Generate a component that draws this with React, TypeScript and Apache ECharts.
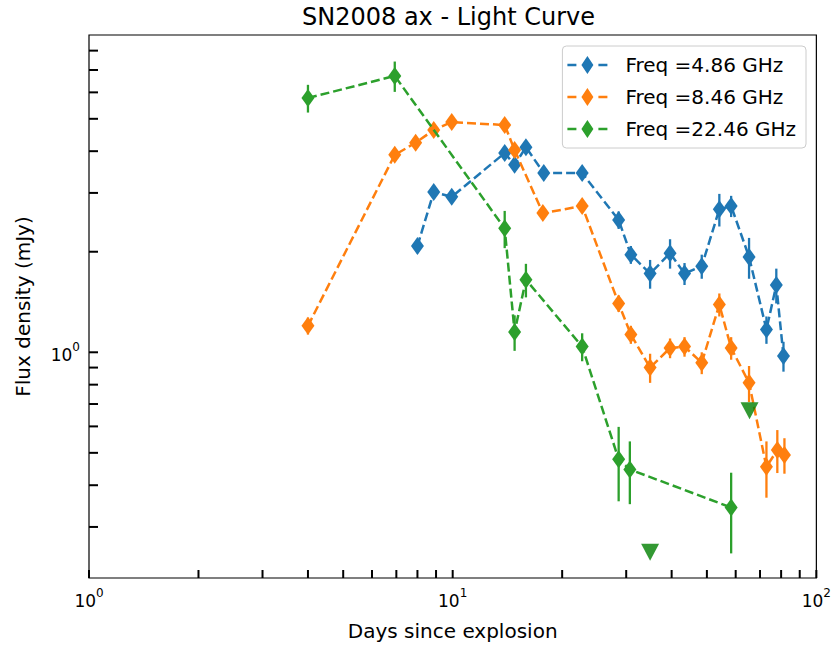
import React, { useEffect, useRef } from "react";
import * as echarts from "echarts";

// ---- data (days since explosion, flux density in mJy, 1-sigma error) ----
const blueDays = [8.0, 8.87, 9.94, 13.9, 14.8, 15.9, 17.8, 22.7, 28.6, 30.9, 34.9, 39.6, 43.4, 48.4, 54.1, 58.3, 65.3, 72.9, 77.6, 81.2];
const blueFlux = [2.08, 3.02, 2.92, 3.95, 3.64, 4.11, 3.44, 3.44, 2.49, 1.96, 1.72, 1.98, 1.72, 1.81, 2.68, 2.74, 1.93, 1.17, 1.59, 0.975];
const blueErr = [0.1, 0.12, 0.1, 0.15, 0.15, 0.15, 0.12, 0.12, 0.15, 0.12, 0.17, 0.2, 0.13, 0.15, 0.3, 0.2, 0.27, 0.11, 0.19, 0.1];

const orangeDays = [4.0, 6.93, 7.91, 8.87, 9.94, 13.9, 14.8, 17.7, 22.7, 28.6, 30.9, 34.9, 39.6, 43.4, 48.4, 54.1, 58.3, 65.3, 72.9, 78.1, 81.7];
const orangeFlux = [1.2, 3.9, 4.24, 4.63, 4.89, 4.79, 4.03, 2.61, 2.74, 1.4, 1.13, 0.9, 1.03, 1.04, 0.93, 1.39, 1.03, 0.81, 0.454, 0.51, 0.493];
const orangeErr = [0.07, 0.1, 0.1, 0.12, 0.12, 0.12, 0.12, 0.1, 0.1, 0.08, 0.07, 0.09, 0.07, 0.07, 0.07, 0.11, 0.08, 0.1, 0.087, 0.075, 0.06];

const greenDays = [4.0, 6.93, 13.9, 14.8, 15.9, 22.7, 28.6, 30.7, 58.3];
const greenFlux = [5.77, 6.72, 2.35, 1.15, 1.65, 1.04, 0.478, 0.446, 0.343];
const greenErr = [0.55, 0.7, 0.3, 0.14, 0.19, 0.1, 0.12, 0.095, 0.093];

// upper limits at 22.46 GHz
const limitDays = [34.9, 65.5];
const limitFlux = [0.252, 0.668];

const seriesNames = ["Freq =4.86 GHz", "Freq =8.46 GHz", "Freq =22.46 GHz"];
const seriesColors = ["#1f77b4", "#ff7f0e", "#2ca02c"];
const limitColor = "#008000";

// tick positions (major + minor) for the log axes
const xTickValues = [1, 2, 3, 4, 5, 6, 7, 8, 9, 10, 20, 30, 40, 50, 60, 70, 80, 90, 100];
const yTickValues = [0.3, 0.4, 0.5, 0.6, 0.7, 0.8, 0.9, 1, 2, 3, 4, 5, 6, 7, 8];

const xMin = 1;
const xMax = 100;
const yMin = 0.211;
const yMax = 8.91;

const FONT = "DejaVu Sans";

const legendIcon =
  "path://M0,7.8L9,7.8L9,10.2L0,10.2Z M14,9L20,0L26,9L20,18Z M31,7.8L40,7.8L40,10.2L31,10.2Z";

function powLabel(v: number): string {
  const e = Math.log10(v);
  const r = Math.round(e);
  if (Math.abs(e - r) > 1e-6) return "";
  return `{b|10}{s|${r}}`;
}

const labelRich = {
  b: { fontSize: 17, fontFamily: FONT, color: "#000", padding: [5, 0, 0, 0], verticalAlign: "bottom" },
  s: { fontSize: 12, fontFamily: FONT, color: "#000", verticalAlign: "top" },
};

export default function App() {
  const ref = useRef<HTMLDivElement>(null);

  useEffect(() => {
    if (!ref.current) return;
    const chart = echarts.init(ref.current, undefined, { renderer: "svg" });

    const groups = [
      { days: blueDays, flux: blueFlux, err: blueErr },
      { days: orangeDays, flux: orangeFlux, err: orangeErr },
      { days: greenDays, flux: greenFlux, err: greenErr },
    ];

    const series: any[] = [];
    groups.forEach((g, i) => {
      const color = seriesColors[i];
      series.push({
        type: "custom",
        name: "err" + i,
        z: 2 + i * 2,
        silent: true,
        data: g.days.map((d, k) => [d, g.flux[k], g.err[k]]),
        encode: { x: 0, y: 1 },
        renderItem: (params: any, api: any) => {
          const x = api.value(0);
          const y = api.value(1);
          const e = api.value(2);
          const top = api.coord([x, y + e]);
          const bot = api.coord([x, Math.max(y - e, 1e-6)]);
          return {
            type: "line",
            shape: { x1: top[0], y1: top[1], x2: bot[0], y2: bot[1] },
            style: { stroke: color, lineWidth: 2.3 },
          };
        },
      });
      series.push({
        type: "line",
        name: seriesNames[i],
        z: 3 + i * 2,
        data: g.days.map((d, k) => [d, g.flux[k]]),
        symbol: "diamond",
        symbolSize: [13, 18],
        showSymbol: true,
        showAllSymbol: true,
        lineStyle: { color, width: 2.5, type: [9, 4] },
        itemStyle: { color },
        emphasis: { disabled: true },
      });
    });

    series.push({
      type: "scatter",
      name: "limits",
      z: 9,
      data: limitDays.map((d, k) => [d, limitFlux[k]]),
      symbol: "triangle",
      symbolRotate: 180,
      symbolSize: [18, 17],
      itemStyle: { color: limitColor },
    });

    // x-axis ticks (inward)
    series.push({
      type: "custom",
      name: "xticks",
      z: 10,
      silent: true,
      data: xTickValues.map((v) => [v, 1]),
      encode: { x: 0, y: 1 },
      renderItem: (params: any, api: any) => {
        const p = api.coord([api.value(0), 1]);
        const cs = params.coordSys;
        const yb = cs.y + cs.height;
        return {
          type: "line",
          shape: { x1: p[0], y1: yb, x2: p[0], y2: yb - 8 },
          style: { stroke: "#000", lineWidth: 2 },
        };
      },
    });
    // y-axis ticks (inward)
    series.push({
      type: "custom",
      name: "yticks",
      z: 10,
      silent: true,
      data: yTickValues.map((v) => [10, v]),
      encode: { x: 0, y: 1 },
      renderItem: (params: any, api: any) => {
        const p = api.coord([10, api.value(1)]);
        const cs = params.coordSys;
        const xl = cs.x;
        return {
          type: "line",
          shape: { x1: xl, y1: p[1], x2: xl + 9, y2: p[1] },
          style: { stroke: "#000", lineWidth: 2 },
        };
      },
    });

    chart.setOption({
      animation: false,
      backgroundColor: "#ffffff",
      title: {
        text: "SN2008 ax - Light Curve",
        left: 302,
        top: 5,
        padding: 0,
        textStyle: { fontSize: 24, fontWeight: "normal", fontFamily: FONT, color: "#000" },
      },
      legend: {
        orient: "vertical",
        top: 46,
        right: 28,
        itemWidth: 40,
        itemHeight: 18,
        itemGap: 12,
        padding: [9, 10, 9, 5],
        backgroundColor: "rgba(255,255,255,0.8)",
        borderColor: "#cccccc",
        borderWidth: 1,
        borderRadius: 4,
        selectedMode: false,
        data: seriesNames.map((n) => ({ name: n, icon: legendIcon })),
        textStyle: { fontSize: 20, fontFamily: FONT, color: "#000", padding: [0, 0, 0, 13] },
      },
      grid: {
        left: 89,
        right: 17,
        top: 35,
        bottom: 68,
        containLabel: false,
        show: true,
        borderColor: "#000",
        borderWidth: 1.2,
        backgroundColor: "transparent",
      },
      xAxis: {
        type: "log",
        logBase: 10,
        min: xMin,
        max: xMax,
        axisLine: { show: false },
        axisTick: { show: false },
        minorTick: { show: false },
        splitLine: { show: false },
        axisLabel: {
          formatter: powLabel,
          margin: 9,
          rich: labelRich,
          showMinLabel: true,
          showMaxLabel: true,
        },
        name: "Days since explosion",
        nameLocation: "middle",
        nameGap: 43,
        nameTextStyle: { fontSize: 20, fontFamily: FONT, color: "#000" },
      },
      yAxis: {
        type: "log",
        logBase: 10,
        min: yMin,
        max: yMax,
        axisLine: { show: false },
        axisTick: { show: false },
        minorTick: { show: false },
        splitLine: { show: false },
        axisLabel: {
          formatter: powLabel,
          margin: 9,
          rich: labelRich,
        },
        name: "Flux density (mJy)",
        nameLocation: "middle",
        nameRotate: 90,
        nameGap: 56,
        nameTextStyle: { fontSize: 20, fontFamily: FONT, color: "#000" },
      },
      series,
    });

    return () => {
      chart.dispose();
    };
  }, []);

  return <div ref={ref} style={{ width: 834, height: 646, position: "absolute", left: 0, top: 0 }} />;
}
